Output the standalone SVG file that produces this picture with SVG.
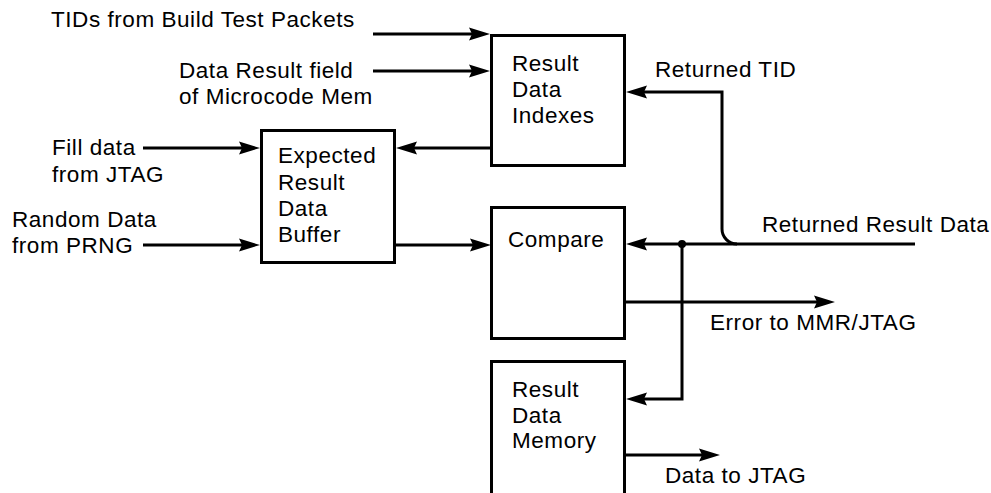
<svg xmlns="http://www.w3.org/2000/svg" width="991" height="493" viewBox="0 0 991 493">
<defs>
<marker id="ah" viewBox="-12 -8 24 16" markerWidth="24" markerHeight="16" refX="0" refY="0" orient="auto" markerUnits="userSpaceOnUse">
<path d="M10,0 L-11,-6.5 L-8,0 L-11,6.5 Z" fill="#000"/>
</marker>
</defs>
<style>
.box{fill:#fff;stroke:#000;stroke-width:3}
.ln{fill:none;stroke:#000;stroke-width:3}
.ar{marker-end:url(#ah)}
text{font-family:"Liberation Sans",Arial,sans-serif;font-size:22.5px;letter-spacing:0.55px;fill:#000}
</style>
<rect width="991" height="493" fill="#fff"/>
<g id="connectors">
<line class="ln ar" x1="373" y1="34" x2="480" y2="34"/>
<line class="ln ar" x1="373" y1="71" x2="480" y2="71"/>
<line class="ln ar" x1="491" y1="148" x2="406" y2="148"/>
<line class="ln ar" x1="143" y1="148" x2="250" y2="148"/>
<line class="ln ar" x1="143" y1="245" x2="250" y2="245"/>
<line class="ln ar" x1="396" y1="245" x2="481" y2="245"/>
<line class="ln ar" x1="915" y1="244" x2="636" y2="244"/>
<path class="ln ar" d="M737,244 A15,15 0 0 1 722,229 L722,92 L636,92"/>
<path class="ln ar" d="M682,244 L682,399 L636,399"/>
<circle cx="682" cy="244" r="4" fill="#000"/>
<line class="ln ar" x1="626" y1="302" x2="825" y2="302"/>
<line class="ln ar" x1="626" y1="455" x2="710" y2="455"/>
</g>
<g id="labels">
<text x="51" y="27">TIDs from Build Test Packets</text>
<text x="179" y="78">Data Result field</text>
<text x="179" y="104">of Microcode Mem</text>
<text x="52" y="155">Fill data</text>
<text x="52" y="182">from JTAG</text>
<text x="12" y="227">Random Data</text>
<text x="12" y="253">from PRNG</text>
<text x="655" y="77">Returned TID</text>
<text x="762" y="232">Returned Result Data</text>
<text x="710" y="330">Error to MMR/JTAG</text>
<text x="665" y="483">Data to JTAG</text>
</g>
<g id="rdi">
<rect class="box" x="491.5" y="35.5" width="133" height="130"/>
<text x="512" y="71">Result</text>
<text x="512" y="97">Data</text>
<text x="512" y="123">Indexes</text>
</g>
<g id="erdb">
<rect class="box" x="261.5" y="130.5" width="133" height="132"/>
<text x="278" y="163">Expected</text>
<text x="278" y="190">Result</text>
<text x="278" y="216">Data</text>
<text x="278" y="242">Buffer</text>
</g>
<g id="compare">
<rect class="box" x="491.5" y="207.5" width="133" height="131"/>
<text x="508" y="247">Compare</text>
</g>
<g id="rdm">
<rect class="box" x="491.5" y="361.5" width="133" height="140"/>
<text x="512" y="397">Result</text>
<text x="512" y="423">Data</text>
<text x="512" y="448">Memory</text>
</g>
</svg>
